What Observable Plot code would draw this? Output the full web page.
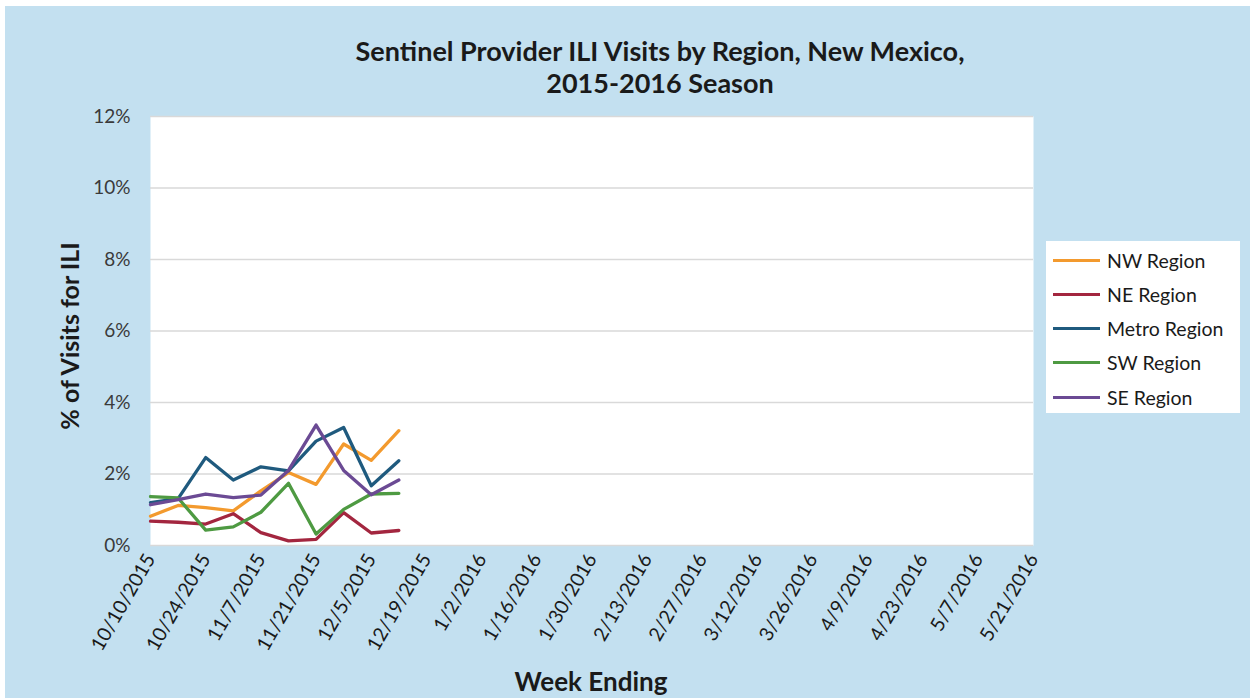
<!DOCTYPE html>
<html><head><meta charset="utf-8">
<script src="https://cdn.jsdelivr.net/npm/d3@7"></script>
<script src="https://cdn.jsdelivr.net/npm/@observablehq/plot@0.6"></script>
<style>
body{margin:0;background:#fff;}
#wrap{position:relative;width:1250px;height:698px;overflow:hidden;font-family:Lato,"Open Sans",sans-serif;}
#bg{position:absolute;left:5px;top:6px;right:0;bottom:0;background:#c3e0f0;}
#chart{position:absolute;left:0;top:0;}
.title{position:absolute;left:660px;transform:translateX(-50%);white-space:nowrap;font-weight:bold;font-size:27px;color:#1a1a1a;}
#ytitle{position:absolute;left:69px;top:336px;transform:translate(-50%,-50%) rotate(-90deg);white-space:nowrap;font-weight:bold;font-size:25px;color:#1a1a1a;}
#xtitle{position:absolute;left:591px;top:681px;transform:translate(-50%,-50%);white-space:nowrap;font-weight:bold;font-size:26px;color:#1a1a1a;}
#legend{position:absolute;left:1046px;top:241px;width:194px;height:172px;background:#fff;}
.li{position:absolute;left:7px;height:20px;display:flex;align-items:center;font-size:19.5px;color:#1a1a1a;white-space:nowrap;}
.sw{width:47px;height:3px;margin-right:7px;}
</style></head>
<body>
<div id="wrap">
  <div id="bg"></div>
  <div id="chart"></div>
  <div class="title" id="t1" style="top:34px">Sentinel Provider ILI Visits by Region, New Mexico,</div>
  <div class="title" id="t2" style="top:66px">2015-2016 Season</div>
  <div id="ytitle">% of Visits for ILI</div>
  <div id="xtitle">Week Ending</div>
  <div id="legend"></div>
</div>
<script>
// ---- data ----
const regions = ["NW Region", "NE Region", "Metro Region", "SW Region", "SE Region"];
const colors  = ["#f39a2e", "#a3263f", "#1f5a7e", "#4e9a42", "#6b4a94"];
const weeks = ["10/10/2015","10/17/2015","10/24/2015","10/31/2015","11/7/2015","11/14/2015","11/21/2015","11/28/2015","12/5/2015","12/12/2015"];
const nw    = [0.82, 1.12, 1.06, 0.97, 1.53, 2.04, 1.71, 2.84, 2.38, 3.21];
const ne    = [0.68, 0.65, 0.60, 0.89, 0.36, 0.13, 0.17, 0.92, 0.35, 0.42];
const metro = [1.20, 1.31, 2.46, 1.83, 2.20, 2.09, 2.92, 3.30, 1.67, 2.37];
const sw    = [1.37, 1.33, 0.43, 0.52, 0.93, 1.74, 0.32, 1.01, 1.44, 1.46];
const se    = [1.14, 1.28, 1.44, 1.34, 1.41, 2.10, 3.37, 2.10, 1.42, 1.83];
const xTickLabels = ["10/10/2015","10/24/2015","11/7/2015","11/21/2015","12/5/2015","12/19/2015","1/2/2016","1/16/2016","1/30/2016","2/13/2016","2/27/2016","3/12/2016","3/26/2016","4/9/2016","4/23/2016","5/7/2016","5/21/2016"];
const yTicks = [0, 2, 4, 6, 8, 10, 12];

const parse = d3.utcParse("%m/%d/%Y");
const series = [nw, ne, metro, sw, se];
const data = [];
regions.forEach((r, k) => weeks.forEach((w, i) => data.push({region: r, date: parse(w), value: series[k][i]})));
const tickDates = xTickLabels.map(parse);
const labelOf = new Map(tickDates.map((d, i) => [+d, xTickLabels[i]]));

const chart = Plot.plot({
  width: 1250, height: 698,
  marginLeft: 150, marginRight: 217, marginTop: 116, marginBottom: 153,
  style: {background: "transparent", fontFamily: "Lato, 'Open Sans', sans-serif"},
  x: {type: "utc", domain: [tickDates[0], tickDates[tickDates.length - 1]]},
  y: {domain: [0, 12]},
  color: {domain: regions, range: colors},
  marks: [
    Plot.frame({fill: "white", stroke: null}),
    Plot.gridY(yTicks, {stroke: "#d9d9d9", strokeOpacity: 1, strokeWidth: 1.3}),
    Plot.line(data, {x: "date", y: "value", z: "region", stroke: "region", strokeWidth: 3.3, strokeLinejoin: "round"}),
    Plot.axisY(yTicks, {tickSize: 0, tickPadding: 20, fontSize: 19, fill: "#3a3a3a", tickFormat: d => d + "%", label: null}),
    Plot.axisX(tickDates, {tickSize: 0, tickPadding: 10, tickRotate: -60, fontSize: 19.5, fill: "#1a1a1a", tickFormat: d => labelOf.get(+d), label: null})
  ]
});
document.getElementById("chart").appendChild(chart);

const lg = document.getElementById("legend");
regions.forEach((r, i) => {
  const el = document.createElement("div");
  el.className = "li";
  el.style.top = (9 + i * 34.3) + "px";
  el.innerHTML = `<div class="sw" style="background:${colors[i]}"></div><span>${r}</span>`;
  lg.appendChild(el);
});
</script>
</body></html>
